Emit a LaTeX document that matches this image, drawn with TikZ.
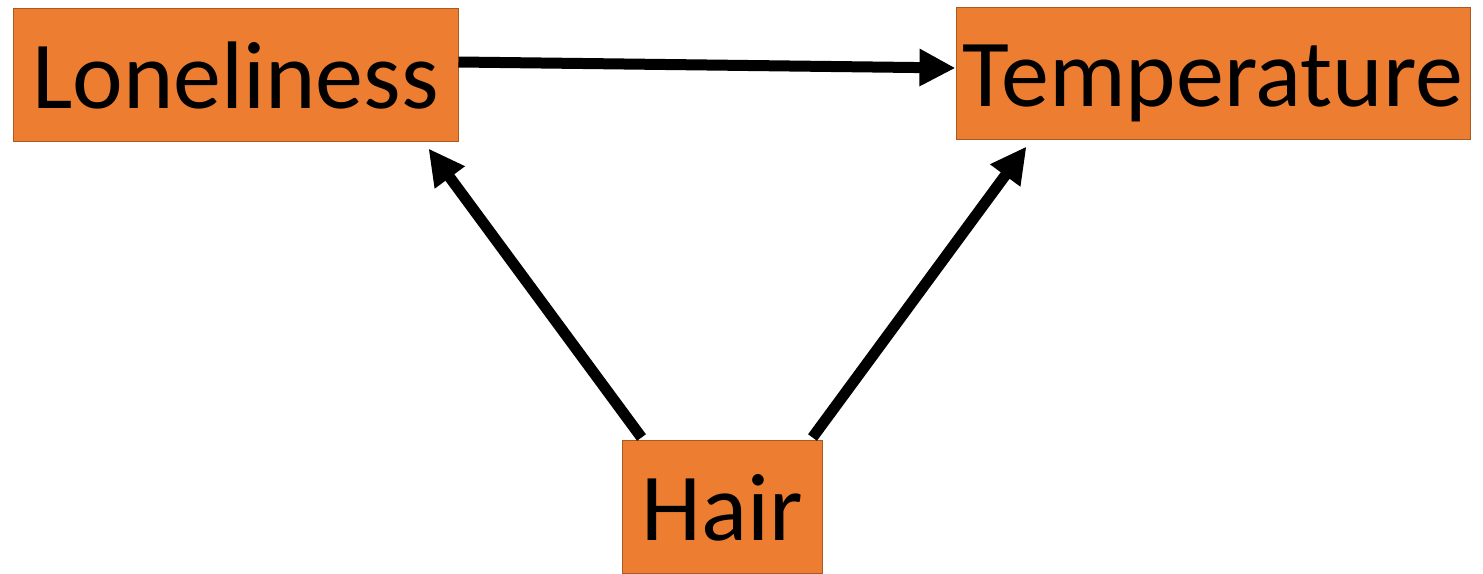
\documentclass[tikz,border=0pt]{standalone}
\usepackage{fontspec}
\setmainfont{Carlito}
\usetikzlibrary{arrows.meta, positioning}

\definecolor{boxfill}{HTML}{ED7D31}
\definecolor{boxline}{HTML}{A65A24}

\begin{document}
\begin{tikzpicture}[x=1pt, y=-1pt,
	var/.style={draw=boxline, line width=1pt, fill=boxfill, inner sep=0pt,
		text height=70pt, text depth=3pt,
		font=\fontsize{96}{110}\selectfont},
	arr/.style={line width=11pt, -{Triangle[length=36pt, width=35pt]}}]
	\useasboundingbox (0,0) rectangle (1483,573);

	\node[var, minimum width=445pt, minimum height=133pt] (lon) at (235.5,74.5) {Loneliness};
	\node[var, minimum width=514pt, minimum height=132pt] (temp) at (1213,73) {Temperature};
	\node[var, minimum width=200pt, minimum height=133pt] (hair) at (722,506.5) {Hair};

	\draw [arr] ([yshift=12.5pt]lon.east) -- ([yshift=5pt]temp.west);
	\draw [arr] ([xshift=20pt, yshift=2pt]hair.north west) -- ([xshift=-30pt, yshift=-7pt]lon.south east);
	\draw [arr] ([xshift=-10pt, yshift=2pt]hair.north east) -- ([xshift=71pt, yshift=-7pt]temp.south west);
\end{tikzpicture}
\end{document}
